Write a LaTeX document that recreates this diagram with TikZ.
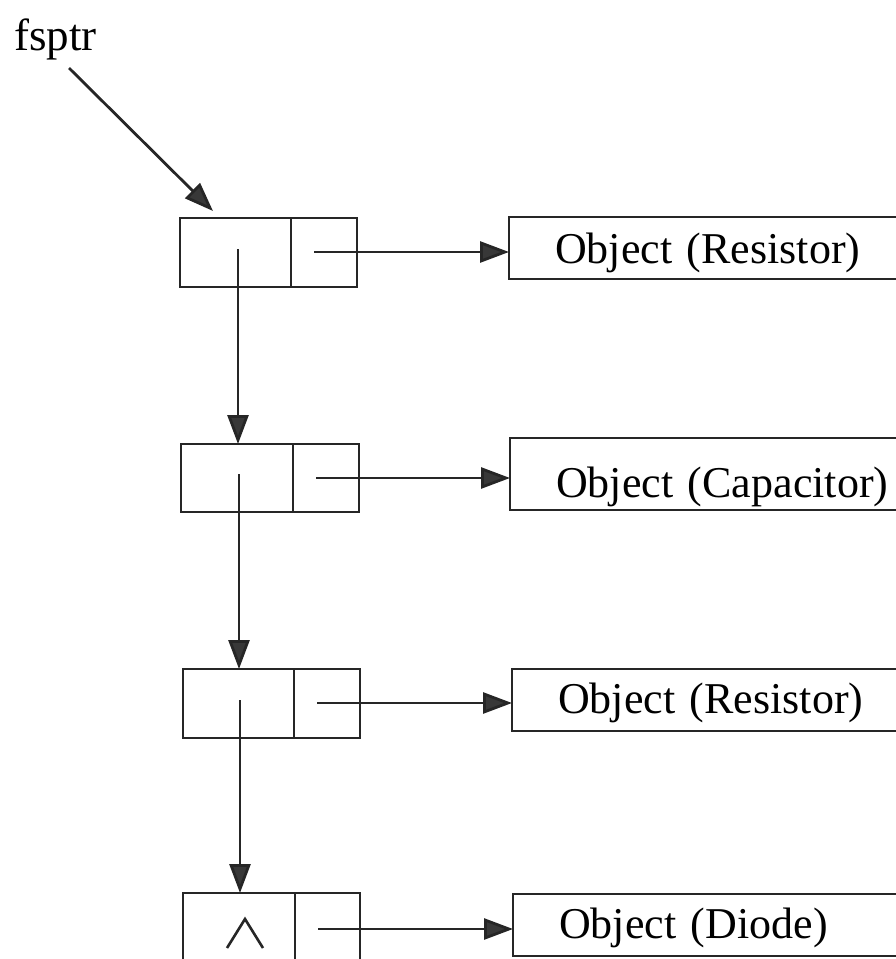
\documentclass[tikz,border=0pt]{standalone}
\usepackage{fontspec}
\setmainfont{Liberation Serif}
\usetikzlibrary{arrows.meta}

\tikzset{
  wire/.style={line width=2.8pt, draw=black!85},
  ptr/.style={wire, -{Triangle[length=29pt,width=21pt,fill=black!78]}},
  cell/.style={wire, rectangle, anchor=north west, inner sep=0pt, outer sep=0pt},
  obj/.style={wire, rectangle, anchor=north west, outer sep=0pt,
    inner xsep=46pt, inner ysep=0pt, text width=360pt, align=left,
    text depth=6pt, font=\fontsize{44pt}{50pt}\selectfont},
  lbl/.style={font=\fontsize{45pt}{50pt}\selectfont, inner sep=0pt}
}

\begin{document}
\begin{tikzpicture}[x=1pt,y=-1pt]
  \useasboundingbox (0,0) rectangle (896,959);

  % head pointer label
  \node[lbl, anchor=base west] (fs) at (14,50) {fsptr};
  \coordinate (fsa) at (69,68);
  \coordinate (fsb) at (213,211);
  \draw[ptr] (fsa) -- (fsb);

  % list cells: left = next, right = object pointer
  \node[cell, minimum width=111pt, minimum height=69pt] (n1a) at (180,218) {};
  \node[cell, minimum width=66pt,  minimum height=69pt] (n1b) at (n1a.north east) {};
  \node[cell, minimum width=112pt, minimum height=68pt] (n2a) at (181,444) {};
  \node[cell, minimum width=66pt,  minimum height=68pt] (n2b) at (n2a.north east) {};
  \node[cell, minimum width=111pt, minimum height=69pt] (n3a) at (183,669) {};
  \node[cell, minimum width=66pt,  minimum height=69pt] (n3b) at (n3a.north east) {};
  \node[cell, minimum width=112pt, minimum height=80pt] (n4a) at (183,893) {};
  \node[cell, minimum width=65pt,  minimum height=80pt] (n4b) at (n4a.north east) {};

  % objects
  \node[obj, minimum height=62pt, text height=36pt] (o1) at (509,217) {Object (Resistor)};
  \node[obj, minimum height=72pt, text height=52pt] (o2) at (510,438) {Object (Capacitor)};
  \node[obj, minimum height=62pt, text height=32pt] (o3) at (512,669) {Object (Resistor)};
  \node[obj, minimum height=62pt, text height=32pt] (o4) at (513,894) {Object (Diode)};

  % next pointers
  \coordinate (s1) at (238,249);
  \coordinate (s2) at (239,474);
  \coordinate (s3) at (240,700);
  \draw[ptr] (s1) -- (s1 |- n2a.north);
  \draw[ptr] (s2) -- (s2 |- n3a.north);
  \draw[ptr] (s3) -- (s3 |- n4a.north);

  % object pointers
  \coordinate (r1) at (314,252);
  \coordinate (r2) at (316,478);
  \coordinate (r3) at (317,703);
  \coordinate (r4) at (318,929);
  \draw[ptr] (r1) -- (r1 -| o1.west);
  \draw[ptr] (r2) -- (r2 -| o2.west);
  \draw[ptr] (r3) -- (r3 -| o3.west);
  \draw[ptr] (r4) -- (r4 -| o4.west);

  % null mark in the last cell
  \draw[line width=2.6pt, draw=black!85] (227,948) -- (245,919) -- (263,948);
\end{tikzpicture}
\end{document}
